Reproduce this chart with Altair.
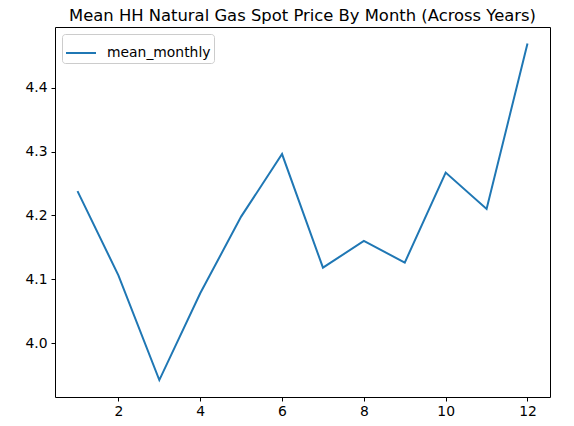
import altair as alt
import pandas as pd

months = [1, 2, 3, 4, 5, 6, 7, 8, 9, 10, 11, 12]
mean_monthly = [4.238, 4.106, 3.942, 4.078, 4.198, 4.296, 4.118, 4.160, 4.126, 4.267, 4.210, 4.469]
series_name = "mean_monthly"
x_ticks = [2, 4, 6, 8, 10, 12]
y_ticks = [4.0, 4.1, 4.2, 4.3, 4.4]

df = pd.DataFrame({"month": months, "value": mean_monthly, "series": [series_name] * len(months)})

FONT = "DejaVu Sans"

chart = alt.Chart(df).mark_line(strokeWidth=2, clip=True).encode(
    x=alt.X("month:Q",
            scale=alt.Scale(domain=[0.45, 12.55], nice=False, zero=False),
            axis=alt.Axis(values=x_ticks, title=None, grid=False, domain=False,
                          tickSize=4, tickColor="black", labelPadding=3,
                          labelFontSize=13.9, labelFont=FONT, labelColor="black",
                          format="d")),
    y=alt.Y("value:Q",
            scale=alt.Scale(domain=[3.9155, 4.495], nice=False, zero=False),
            axis=alt.Axis(values=y_ticks, title=None, grid=False, domain=False,
                          tickSize=4, tickColor="black", labelPadding=4,
                          labelFontSize=13.9, labelFont=FONT, labelColor="black",
                          format=".1f")),
    color=alt.Color("series:N",
                    scale=alt.Scale(range=["#1f77b4"]),
                    legend=alt.Legend(title=None, orient="none", legendX=7, legendY=7,
                                      symbolType="stroke", symbolSize=900,
                                      symbolStrokeWidth=2, labelFontSize=13.9,
                                      labelFont=FONT, labelColor="black",
                                      fillColor="white", strokeColor="#cccccc",
                                      padding=3, cornerRadius=3, labelOffset=10)),
).properties(
    width=495,
    height=370,
    title=alt.TitleParams("Mean HH Natural Gas Spot Price By Month (Across Years)",
                          fontSize=16.4, font=FONT, fontWeight="normal", color="black",
                          anchor="middle", offset=3),
    padding={"left": 47, "top": 19, "right": 16, "bottom": 21},
    autosize=alt.AutoSizeParams(type="none"),
).configure(
    background="white",
    view=alt.ViewConfig(stroke="black", strokeWidth=1),
)

chart.save("out.html", embed_options={"renderer": "svg", "actions": False})
